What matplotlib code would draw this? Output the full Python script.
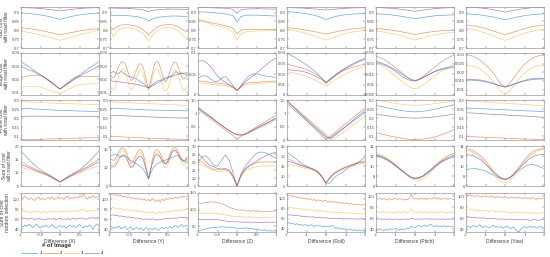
import numpy as np
import matplotlib
matplotlib.use("Agg")
import matplotlib.pyplot as plt

plt.rcParams["font.family"] = ["Liberation Sans", "DejaVu Sans"]

# every panel holds 4 series, in legend order 1, 2, 3, 4
# (samples are evenly spaced over the panel's x range)
SERIES = ["1", "2", "3", "4"]
COLORS = ["#0072bd", "#d95319", "#edb120", "#7e2f8e"]

XLABELS = ["Difference (X)", "Difference (Y)", "Difference (Z)",
           "Difference (Roll)", "Difference (Pitch)", "Difference (Yaw)"]
YLABELS = ["NID cost\nwith road filter", "Edge cost\nwith road filter",
           "Plane cost\nwith road filter", "Sum of cost\nwith road filter",
           "Sum of cost\nrandom selection"]

# ---- row 1: NID cost ----
NID_X = [
    [0.898, 0.897, 0.895, 0.893, 0.890, 0.887, 0.883, 0.879, 0.874, 0.868, 0.862, 0.868, 0.874, 0.879, 0.883, 0.887, 0.890, 0.893, 0.895, 0.897, 0.898],
    [0.815, 0.813, 0.810, 0.807, 0.803, 0.799, 0.795, 0.790, 0.785, 0.780, 0.775, 0.779, 0.784, 0.788, 0.792, 0.796, 0.800, 0.803, 0.806, 0.808, 0.810],
    [0.795, 0.792, 0.788, 0.784, 0.779, 0.774, 0.768, 0.762, 0.756, 0.750, 0.743, 0.749, 0.756, 0.762, 0.768, 0.774, 0.780, 0.786, 0.791, 0.796, 0.800],
    [0.928, 0.928, 0.927, 0.926, 0.925, 0.923, 0.921, 0.919, 0.916, 0.913, 0.910, 0.913, 0.916, 0.919, 0.921, 0.923, 0.925, 0.926, 0.927, 0.928, 0.928],
]
NID_Y = [
    [0.886, 0.884, 0.885, 0.885, 0.884, 0.882, 0.880, 0.877, 0.873, 0.866, 0.853, 0.864, 0.871, 0.875, 0.878, 0.880, 0.881, 0.881, 0.880, 0.879, 0.880],
    [0.825, 0.803, 0.822, 0.830, 0.832, 0.831, 0.828, 0.822, 0.812, 0.797, 0.772, 0.797, 0.814, 0.825, 0.831, 0.833, 0.831, 0.825, 0.814, 0.800, 0.792],
    [0.805, 0.765, 0.795, 0.810, 0.815, 0.814, 0.810, 0.803, 0.790, 0.772, 0.740, 0.772, 0.792, 0.806, 0.814, 0.816, 0.813, 0.805, 0.790, 0.768, 0.755],
    [0.926, 0.926, 0.925, 0.925, 0.924, 0.923, 0.922, 0.920, 0.918, 0.914, 0.905, 0.913, 0.916, 0.918, 0.919, 0.920, 0.920, 0.920, 0.919, 0.918, 0.918],
]
NID_Z = [
    [0.905, 0.904, 0.903, 0.902, 0.900, 0.898, 0.896, 0.893, 0.889, 0.882, 0.848, 0.878, 0.884, 0.886, 0.886, 0.886, 0.885, 0.884, 0.883, 0.882, 0.881],
    [0.862, 0.856, 0.850, 0.845, 0.840, 0.836, 0.831, 0.826, 0.820, 0.810, 0.780, 0.800, 0.806, 0.806, 0.805, 0.805, 0.805, 0.805, 0.805, 0.806, 0.806],
    [0.857, 0.850, 0.843, 0.837, 0.831, 0.826, 0.820, 0.813, 0.805, 0.790, 0.743, 0.780, 0.790, 0.793, 0.795, 0.796, 0.797, 0.798, 0.798, 0.799, 0.800],
    [0.929, 0.929, 0.928, 0.928, 0.927, 0.927, 0.926, 0.925, 0.923, 0.919, 0.896, 0.916, 0.920, 0.921, 0.922, 0.922, 0.922, 0.921, 0.921, 0.920, 0.920],
]
NID_ROLL = [
    [0.905, 0.904, 0.902, 0.900, 0.897, 0.894, 0.890, 0.885, 0.879, 0.871, 0.861, 0.869, 0.876, 0.881, 0.885, 0.888, 0.890, 0.892, 0.893, 0.894, 0.895],
    [0.815, 0.813, 0.811, 0.808, 0.805, 0.801, 0.797, 0.793, 0.788, 0.784, 0.779, 0.784, 0.789, 0.794, 0.798, 0.802, 0.806, 0.809, 0.811, 0.813, 0.815],
    [0.805, 0.802, 0.798, 0.793, 0.788, 0.782, 0.775, 0.768, 0.761, 0.753, 0.745, 0.753, 0.761, 0.768, 0.775, 0.781, 0.786, 0.791, 0.795, 0.798, 0.800],
    [0.928, 0.928, 0.927, 0.927, 0.926, 0.925, 0.923, 0.921, 0.919, 0.917, 0.915, 0.917, 0.919, 0.921, 0.923, 0.925, 0.926, 0.927, 0.927, 0.928, 0.928],
]
NID_PITCH = [
    [0.893, 0.892, 0.891, 0.889, 0.887, 0.884, 0.881, 0.878, 0.874, 0.870, 0.865, 0.869, 0.873, 0.876, 0.879, 0.882, 0.884, 0.885, 0.886, 0.887, 0.888],
    [0.810, 0.809, 0.807, 0.804, 0.801, 0.798, 0.794, 0.790, 0.786, 0.781, 0.776, 0.780, 0.784, 0.788, 0.791, 0.794, 0.796, 0.798, 0.799, 0.800, 0.800],
    [0.795, 0.793, 0.790, 0.786, 0.782, 0.777, 0.771, 0.765, 0.758, 0.752, 0.745, 0.751, 0.757, 0.763, 0.768, 0.773, 0.778, 0.782, 0.785, 0.788, 0.790],
    [0.928, 0.928, 0.927, 0.926, 0.924, 0.922, 0.920, 0.917, 0.914, 0.911, 0.908, 0.911, 0.914, 0.917, 0.920, 0.922, 0.924, 0.926, 0.927, 0.928, 0.928],
]
NID_YAW = [
    [0.893, 0.892, 0.891, 0.889, 0.886, 0.883, 0.879, 0.875, 0.870, 0.865, 0.860, 0.865, 0.870, 0.875, 0.879, 0.883, 0.886, 0.889, 0.891, 0.892, 0.893],
    [0.830, 0.828, 0.825, 0.821, 0.816, 0.810, 0.803, 0.796, 0.789, 0.782, 0.776, 0.782, 0.789, 0.796, 0.803, 0.810, 0.816, 0.821, 0.825, 0.828, 0.830],
    [0.810, 0.807, 0.803, 0.798, 0.792, 0.785, 0.777, 0.769, 0.760, 0.751, 0.743, 0.751, 0.760, 0.769, 0.777, 0.784, 0.790, 0.795, 0.799, 0.802, 0.805],
    [0.930, 0.930, 0.929, 0.928, 0.926, 0.923, 0.920, 0.916, 0.912, 0.908, 0.903, 0.908, 0.912, 0.916, 0.920, 0.923, 0.926, 0.928, 0.929, 0.930, 0.930],
]

# ---- row 2: edge cost ----
EDGE_X = [
    [0.0335, 0.0315, 0.0295, 0.0275, 0.0254, 0.0234, 0.0212, 0.0190, 0.0168, 0.0146, 0.0125, 0.0146, 0.0168, 0.0190, 0.0212, 0.0234, 0.0254, 0.0275, 0.0295, 0.0315, 0.0335],
    [0.0215, 0.0220, 0.0225, 0.0230, 0.0232, 0.0228, 0.0215, 0.0195, 0.0170, 0.0148, 0.0128, 0.0150, 0.0175, 0.0200, 0.0215, 0.0222, 0.0222, 0.0220, 0.0220, 0.0222, 0.0222],
    [0.0140, 0.0142, 0.0145, 0.0146, 0.0145, 0.0140, 0.0130, 0.0118, 0.0108, 0.0100, 0.0095, 0.0105, 0.0120, 0.0135, 0.0150, 0.0158, 0.0162, 0.0164, 0.0165, 0.0165, 0.0165],
    [0.0290, 0.0285, 0.0270, 0.0262, 0.0245, 0.0232, 0.0215, 0.0195, 0.0175, 0.0150, 0.0125, 0.0145, 0.0165, 0.0185, 0.0205, 0.0222, 0.0240, 0.0255, 0.0270, 0.0285, 0.0300],
]
EDGE_Y = [
    [0.024, 0.025, 0.026, 0.025, 0.024, 0.025, 0.026, 0.025, 0.024, 0.023, 0.022, 0.022, 0.021, 0.021, 0.020, 0.019, 0.018, 0.017, 0.016, 0.0145, 0.0135,
     0.0145, 0.016, 0.017, 0.018, 0.019, 0.019, 0.020, 0.021, 0.021, 0.022, 0.022, 0.023, 0.024, 0.026, 0.025, 0.024, 0.025, 0.024, 0.024, 0.023],
    [0.025, 0.022, 0.021, 0.023, 0.027, 0.031, 0.033, 0.0335, 0.032, 0.028, 0.023, 0.019, 0.020, 0.024, 0.028, 0.031, 0.032, 0.030, 0.025, 0.018, 0.0125,
     0.018, 0.025, 0.031, 0.0335, 0.033, 0.029, 0.024, 0.019, 0.018, 0.021, 0.026, 0.030, 0.033, 0.033, 0.030, 0.026, 0.022, 0.020, 0.021, 0.024],
    [0.016, 0.013, 0.012, 0.014, 0.019, 0.024, 0.027, 0.028, 0.026, 0.021, 0.015, 0.012, 0.013, 0.017, 0.022, 0.026, 0.027, 0.025, 0.020, 0.015, 0.0115,
     0.015, 0.021, 0.026, 0.028, 0.027, 0.023, 0.017, 0.012, 0.011, 0.013, 0.018, 0.023, 0.027, 0.027, 0.024, 0.019, 0.014, 0.011, 0.012, 0.015],
    [0.0190, 0.0188, 0.0186, 0.0184, 0.0182, 0.0180, 0.0178, 0.0176, 0.0174, 0.0172, 0.0170, 0.0168, 0.0166, 0.0163, 0.0160, 0.0157, 0.0153, 0.0149, 0.0145, 0.0140, 0.0135,
     0.0142, 0.0150, 0.0158, 0.0166, 0.0174, 0.0182, 0.0190, 0.0197, 0.0204, 0.0210, 0.0216, 0.0222, 0.0227, 0.0232, 0.0236, 0.0240, 0.0243, 0.0246, 0.0248, 0.0250],
]
EDGE_Z = [
    [0.040, 0.045, 0.046, 0.040, 0.033, 0.032, 0.040, 0.044, 0.035, 0.022, 0.010, 0.022, 0.035, 0.045, 0.050, 0.050, 0.048, 0.046, 0.044, 0.043, 0.042],
    [0.034, 0.033, 0.032, 0.030, 0.029, 0.028, 0.027, 0.026, 0.024, 0.020, 0.011, 0.020, 0.026, 0.029, 0.030, 0.030, 0.031, 0.032, 0.032, 0.033, 0.033],
    [0.030, 0.029, 0.028, 0.026, 0.025, 0.023, 0.023, 0.022, 0.020, 0.017, 0.010, 0.017, 0.022, 0.024, 0.026, 0.027, 0.028, 0.028, 0.029, 0.030, 0.030],
    [0.080, 0.082, 0.079, 0.070, 0.058, 0.045, 0.037, 0.030, 0.024, 0.018, 0.011, 0.020, 0.030, 0.038, 0.045, 0.052, 0.060, 0.068, 0.076, 0.083, 0.088],
]
EDGE_ROLL = [
    [0.0400, 0.0380, 0.0360, 0.0335, 0.0310, 0.0285, 0.0260, 0.0230, 0.0195, 0.0155, 0.0110, 0.0140, 0.0170, 0.0200, 0.0225, 0.0250, 0.0270, 0.0290, 0.0310, 0.0325, 0.0340],
    [0.0290, 0.0285, 0.0275, 0.0265, 0.0255, 0.0240, 0.0225, 0.0205, 0.0185, 0.0155, 0.0120, 0.0150, 0.0180, 0.0205, 0.0225, 0.0240, 0.0255, 0.0265, 0.0275, 0.0285, 0.0290],
    [0.0220, 0.0215, 0.0208, 0.0200, 0.0190, 0.0178, 0.0163, 0.0145, 0.0125, 0.0105, 0.0085, 0.0110, 0.0135, 0.0160, 0.0180, 0.0200, 0.0220, 0.0235, 0.0250, 0.0262, 0.0270],
    [0.0240, 0.0238, 0.0235, 0.0230, 0.0225, 0.0215, 0.0200, 0.0185, 0.0165, 0.0145, 0.0120, 0.0150, 0.0180, 0.0210, 0.0235, 0.0260, 0.0280, 0.0300, 0.0320, 0.0335, 0.0350],
]
EDGE_PITCH = [
    [0.0210, 0.0205, 0.0198, 0.0190, 0.0180, 0.0170, 0.0158, 0.0146, 0.0134, 0.0124, 0.0120, 0.0124, 0.0133, 0.0143, 0.0153, 0.0162, 0.0170, 0.0176, 0.0180, 0.0184, 0.0185],
    [0.0235, 0.0228, 0.0220, 0.0208, 0.0195, 0.0180, 0.0165, 0.0150, 0.0135, 0.0123, 0.0117, 0.0125, 0.0138, 0.0152, 0.0167, 0.0182, 0.0197, 0.0210, 0.0222, 0.0232, 0.0240],
    [0.0200, 0.0193, 0.0183, 0.0170, 0.0156, 0.0140, 0.0124, 0.0108, 0.0094, 0.0084, 0.0080, 0.0085, 0.0096, 0.0110, 0.0125, 0.0140, 0.0154, 0.0166, 0.0176, 0.0184, 0.0190],
    [0.0205, 0.0200, 0.0193, 0.0185, 0.0175, 0.0162, 0.0148, 0.0135, 0.0125, 0.0118, 0.0117, 0.0122, 0.0132, 0.0142, 0.0152, 0.0160, 0.0167, 0.0172, 0.0176, 0.0179, 0.0180],
]
EDGE_YAW = [
    [0.0155, 0.0155, 0.0154, 0.0152, 0.0149, 0.0145, 0.0140, 0.0134, 0.0127, 0.0122, 0.0120, 0.0123, 0.0130, 0.0138, 0.0146, 0.0153, 0.0160, 0.0164, 0.0166, 0.0166, 0.0165],
    [0.0300, 0.0297, 0.0290, 0.0278, 0.0262, 0.0242, 0.0220, 0.0195, 0.0163, 0.0132, 0.0115, 0.0130, 0.0160, 0.0192, 0.0220, 0.0245, 0.0265, 0.0280, 0.0290, 0.0297, 0.0300],
    [0.0240, 0.0238, 0.0233, 0.0225, 0.0212, 0.0195, 0.0173, 0.0148, 0.0118, 0.0090, 0.0075, 0.0088, 0.0115, 0.0145, 0.0172, 0.0195, 0.0213, 0.0226, 0.0234, 0.0238, 0.0240],
    [0.0160, 0.0160, 0.0159, 0.0157, 0.0154, 0.0150, 0.0144, 0.0137, 0.0128, 0.0120, 0.0115, 0.0120, 0.0128, 0.0137, 0.0145, 0.0151, 0.0155, 0.0158, 0.0160, 0.0161, 0.0162],
]

# ---- row 3: plane cost ----
PLANE_X = [
    [0.255, 0.254, 0.253, 0.251, 0.250, 0.249, 0.247, 0.246, 0.245, 0.244, 0.243, 0.242, 0.242, 0.241, 0.240, 0.239, 0.239, 0.238, 0.237, 0.236, 0.235],
    [0.082, 0.082, 0.083, 0.083, 0.084, 0.084, 0.085, 0.086, 0.086, 0.087, 0.088, 0.088, 0.089, 0.090, 0.090, 0.091, 0.091, 0.092, 0.092, 0.092, 0.093],
    [0.290, 0.290, 0.289, 0.288, 0.287, 0.286, 0.285, 0.284, 0.283, 0.282, 0.281, 0.280, 0.280, 0.279, 0.278, 0.278, 0.277, 0.277, 0.276, 0.276, 0.275],
    [0.210, 0.210, 0.211, 0.211, 0.211, 0.211, 0.211, 0.210, 0.210, 0.210, 0.210, 0.210, 0.210, 0.210, 0.210, 0.209, 0.209, 0.209, 0.209, 0.209, 0.209],
]
PLANE_Y = [
    [0.255, 0.254, 0.253, 0.252, 0.251, 0.250, 0.249, 0.248, 0.247, 0.246, 0.245, 0.245, 0.244, 0.244, 0.243, 0.243, 0.242, 0.242, 0.241, 0.241, 0.240],
    [0.100, 0.099, 0.098, 0.097, 0.096, 0.095, 0.094, 0.093, 0.092, 0.091, 0.090, 0.089, 0.088, 0.088, 0.087, 0.086, 0.085, 0.085, 0.084, 0.084, 0.083],
    [0.290, 0.289, 0.288, 0.287, 0.286, 0.285, 0.284, 0.283, 0.282, 0.281, 0.280, 0.279, 0.278, 0.277, 0.276, 0.275, 0.274, 0.273, 0.272, 0.271, 0.270],
    [0.215, 0.215, 0.214, 0.214, 0.213, 0.212, 0.211, 0.210, 0.209, 0.208, 0.207, 0.206, 0.205, 0.205, 0.204, 0.203, 0.202, 0.202, 0.201, 0.201, 0.200],
]
PLANE_Z = [
    [1.22, 1.11, 1.00, 0.89, 0.78, 0.67, 0.56, 0.45, 0.35, 0.26, 0.20, 0.18, 0.21, 0.27, 0.35, 0.43, 0.50, 0.58, 0.65, 0.73, 0.80],
    [1.15, 1.04, 0.93, 0.82, 0.71, 0.60, 0.49, 0.38, 0.27, 0.15, 0.04, 0.13, 0.22, 0.31, 0.40, 0.49, 0.58, 0.67, 0.76, 0.84, 0.92],
    [1.25, 1.13, 1.02, 0.90, 0.79, 0.68, 0.56, 0.45, 0.34, 0.24, 0.19, 0.17, 0.20, 0.26, 0.33, 0.40, 0.47, 0.54, 0.61, 0.68, 0.75],
    [1.20, 1.09, 0.98, 0.88, 0.77, 0.66, 0.55, 0.45, 0.35, 0.27, 0.21, 0.19, 0.22, 0.29, 0.37, 0.45, 0.52, 0.60, 0.67, 0.74, 0.82],
]
PLANE_ROLL = [
    [1.37, 1.24, 1.11, 0.985, 0.86, 0.73, 0.60, 0.48, 0.35, 0.22, 0.10, 0.08, 0.18, 0.29, 0.39, 0.50, 0.60, 0.71, 0.82, 0.93, 1.04],
    [1.50, 1.35, 1.20, 1.05, 0.90, 0.75, 0.60, 0.45, 0.30, 0.15, 0.01, 0.13, 0.25, 0.37, 0.49, 0.61, 0.73, 0.85, 0.97, 1.09, 1.21],
    [1.48, 1.354, 1.228, 1.10, 0.976, 0.85, 0.724, 0.60, 0.47, 0.346, 0.22, 0.095, 0.03, 0.14, 0.25, 0.36, 0.47, 0.58, 0.69, 0.79, 0.90],
    [1.45, 1.32, 1.19, 1.06, 0.93, 0.80, 0.67, 0.54, 0.41, 0.28, 0.15, 0.03, 0.14, 0.26, 0.38, 0.50, 0.63, 0.75, 0.88, 1.00, 1.13],
]
PLANE_PITCH = [
    [0.270, 0.266, 0.262, 0.257, 0.252, 0.248, 0.244, 0.241, 0.238, 0.236, 0.235, 0.236, 0.238, 0.241, 0.245, 0.249, 0.254, 0.259, 0.264, 0.269, 0.274],
    [0.120, 0.115, 0.110, 0.105, 0.100, 0.096, 0.092, 0.088, 0.085, 0.083, 0.082, 0.083, 0.085, 0.088, 0.092, 0.097, 0.103, 0.110, 0.118, 0.127, 0.138],
    [0.300, 0.297, 0.293, 0.289, 0.285, 0.281, 0.278, 0.275, 0.273, 0.272, 0.271, 0.272, 0.273, 0.275, 0.277, 0.280, 0.283, 0.286, 0.289, 0.292, 0.295],
    [0.222, 0.219, 0.216, 0.213, 0.210, 0.207, 0.205, 0.203, 0.202, 0.201, 0.200, 0.201, 0.202, 0.203, 0.205, 0.207, 0.210, 0.213, 0.216, 0.219, 0.222],
]
PLANE_YAW = [
    [0.256, 0.255, 0.254, 0.253, 0.252, 0.251, 0.250, 0.249, 0.248, 0.247, 0.246, 0.245, 0.244, 0.243, 0.242, 0.241, 0.240, 0.239, 0.238, 0.237, 0.236],
    [0.100, 0.099, 0.098, 0.097, 0.096, 0.095, 0.094, 0.093, 0.092, 0.091, 0.090, 0.089, 0.088, 0.087, 0.086, 0.086, 0.085, 0.084, 0.083, 0.083, 0.082],
    [0.295, 0.294, 0.293, 0.291, 0.290, 0.289, 0.287, 0.286, 0.284, 0.283, 0.282, 0.280, 0.279, 0.278, 0.276, 0.275, 0.274, 0.272, 0.271, 0.269, 0.268],
    [0.230, 0.229, 0.228, 0.226, 0.225, 0.224, 0.222, 0.221, 0.220, 0.219, 0.218, 0.216, 0.215, 0.214, 0.213, 0.212, 0.210, 0.209, 0.208, 0.206, 0.205],
]

# ---- row 4: sum of cost with road filter ----
SUM_X = [
    [18.0, 16.5, 15.0, 13.5, 12.2, 11.0, 10.2, 9.4, 8.5, 7.5, 6.5, 7.5, 8.5, 9.4, 10.2, 11.0, 12.2, 13.5, 15.0, 16.5, 18.0],
    [14.0, 13.3, 12.5, 11.8, 11.0, 10.4, 9.8, 9.1, 8.3, 7.4, 6.5, 7.5, 8.4, 9.3, 10.0, 10.7, 11.5, 12.3, 13.2, 14.1, 15.0],
    [12.0, 11.6, 11.2, 10.8, 10.3, 9.8, 9.3, 8.7, 8.0, 7.2, 6.5, 7.2, 8.0, 8.7, 9.3, 9.8, 10.4, 11.0, 11.6, 12.1, 12.6],
    [13.0, 12.5, 11.9, 11.3, 10.7, 10.1, 9.5, 8.9, 8.1, 7.3, 6.5, 7.3, 8.1, 8.9, 9.6, 10.3, 11.0, 11.8, 12.6, 13.3, 14.0],
]
SUM_Y = [
    [13.0, 13.3, 13.6, 13.8, 13.6, 13.2, 13.0, 13.2, 13.3, 12.9, 12.4, 12.0, 11.7, 11.4, 11.0, 10.7, 10.3, 9.8, 9.0, 8.0, 7.0,
     8.3, 9.5, 10.4, 11.0, 11.3, 11.6, 11.8, 12.0, 12.2, 12.4, 12.6, 12.8, 13.0, 13.3, 13.4, 12.8, 12.2, 11.8, 11.6, 11.5],
    [13.0, 12.3, 12.0, 12.5, 13.5, 14.7, 15.4, 15.5, 15.0, 13.8, 12.2, 11.2, 11.5, 12.8, 14.0, 14.8, 15.0, 14.2, 12.3, 9.5, 7.0,
     9.5, 12.3, 14.2, 15.0, 14.8, 14.0, 12.8, 11.5, 11.2, 12.2, 13.8, 15.0, 15.5, 15.4, 14.7, 13.5, 12.5, 12.0, 12.3, 13.0],
    [12.0, 11.2, 10.8, 11.3, 12.5, 13.8, 14.6, 14.8, 14.2, 12.8, 11.0, 10.0, 10.3, 11.6, 13.0, 13.9, 14.2, 13.4, 11.5, 9.0, 7.0,
     9.0, 11.5, 13.4, 14.2, 13.9, 13.0, 11.6, 10.3, 10.0, 11.0, 12.8, 14.2, 14.8, 14.6, 13.8, 12.5, 11.3, 10.8, 11.2, 12.0],
    [11.0, 10.5, 10.2, 10.6, 11.5, 12.6, 13.3, 13.6, 13.2, 12.2, 11.0, 10.2, 10.4, 11.3, 12.3, 13.0, 13.2, 12.6, 11.0, 9.0, 7.0,
     9.2, 11.3, 12.9, 13.6, 13.5, 12.9, 12.0, 11.2, 11.0, 11.7, 13.0, 14.2, 14.8, 14.7, 14.0, 13.0, 12.2, 11.8, 12.0, 12.5],
]
SUM_Z = [
    [20.0, 23.0, 24.0, 21.5, 18.0, 17.5, 21.0, 24.5, 21.0, 13.0, 5.0, 12.0, 17.0, 20.0, 23.0, 25.5, 26.2, 26.0, 25.0, 23.5, 22.5],
    [22.0, 20.0, 18.0, 16.5, 15.5, 15.0, 15.5, 16.0, 15.0, 11.0, 5.0, 11.5, 15.0, 17.0, 18.5, 19.5, 20.0, 20.0, 20.0, 20.0, 20.0],
    [19.0, 18.0, 17.0, 15.5, 14.5, 14.0, 14.0, 14.5, 13.5, 10.0, 5.0, 10.5, 14.0, 15.5, 16.5, 17.0, 17.5, 17.5, 17.5, 17.8, 18.0],
    [25.0, 23.0, 20.0, 18.0, 17.0, 16.0, 15.5, 15.5, 14.5, 11.0, 5.0, 12.0, 15.5, 17.5, 19.0, 20.5, 22.0, 23.5, 24.5, 25.5, 26.0],
]
SUM_ROLL = [
    [22.0, 20.5, 19.0, 17.5, 16.0, 15.0, 14.0, 13.2, 12.0, 9.5, 6.0, 6.5, 9.0, 10.5, 11.5, 13.0, 14.5, 15.5, 16.5, 18.0, 19.5],
    [19.0, 18.0, 17.0, 16.0, 15.2, 14.5, 14.0, 13.3, 12.0, 9.8, 6.5, 9.5, 11.5, 12.5, 13.5, 14.5, 15.3, 16.0, 16.7, 17.2, 17.5],
    [16.0, 15.6, 15.2, 14.7, 14.2, 13.7, 13.3, 12.8, 11.5, 9.3, 6.5, 8.8, 10.8, 12.0, 13.0, 13.8, 14.5, 15.0, 15.6, 16.0, 16.5],
    [17.5, 17.0, 16.3, 15.6, 15.0, 14.3, 13.8, 13.0, 11.8, 9.5, 6.5, 9.0, 11.0, 12.3, 13.5, 14.3, 15.0, 15.7, 16.3, 16.8, 17.0],
]
SUM_PITCH = [
    [12.0, 11.8, 11.5, 11.1, 10.6, 10.0, 9.4, 8.8, 8.2, 7.7, 7.4, 7.5, 7.9, 8.4, 9.0, 9.7, 10.3, 10.9, 11.3, 11.6, 11.8],
    [12.3, 12.1, 11.8, 11.3, 10.8, 10.2, 9.5, 8.8, 8.2, 7.7, 7.5, 7.6, 8.0, 8.6, 9.3, 10.0, 10.7, 11.3, 11.8, 12.2, 12.5],
    [12.5, 12.3, 12.0, 11.5, 11.0, 10.3, 9.6, 8.9, 8.2, 7.5, 7.2, 7.1, 7.4, 8.0, 8.8, 9.6, 10.4, 11.1, 11.7, 12.2, 12.6],
    [12.1, 11.9, 11.6, 11.2, 10.7, 10.1, 9.5, 8.9, 8.3, 7.8, 7.6, 7.7, 8.0, 8.6, 9.2, 9.9, 10.5, 11.0, 11.4, 11.8, 12.1],
]
SUM_YAW = [
    [9.3, 9.4, 9.5, 9.4, 9.2, 9.0, 8.6, 8.2, 7.8, 7.5, 7.3, 7.6, 8.1, 8.7, 9.3, 9.8, 10.2, 10.3, 10.1, 9.8, 9.5],
    [13.5, 13.3, 13.0, 12.5, 11.8, 11.0, 10.0, 9.0, 8.2, 7.5, 7.2, 7.5, 8.2, 9.2, 10.2, 11.2, 12.1, 12.8, 13.2, 13.4, 13.5],
    [13.2, 13.0, 12.6, 12.1, 11.4, 10.5, 9.5, 8.5, 7.6, 6.9, 6.6, 6.9, 7.7, 8.7, 9.8, 10.8, 11.7, 12.4, 12.9, 13.2, 13.3],
    [12.3, 12.2, 12.0, 11.6, 11.1, 10.4, 9.6, 8.8, 8.1, 7.6, 7.4, 7.6, 8.2, 9.0, 9.8, 10.6, 11.3, 11.8, 12.1, 12.3, 12.3],
]

# ---- row 5: sum of cost, random selection ----
RAND_X = [
    [47, 45, 49, 46, 50, 48, 44, 47, 51, 46, 43, 47, 45, 49, 44, 46, 50, 45, 42, 46, 48, 44, 47, 43, 46, 49, 45, 48, 44, 47, 50, 46, 43, 47, 45, 49, 46, 40, 48, 51, 46],
    [104, 101, 106, 102, 99, 103, 100, 97, 101, 104, 99, 102, 98, 101, 103, 100, 104, 99, 102, 105, 101, 103, 99, 104, 106, 100, 103, 101, 105, 102, 106, 104, 111, 103, 100, 105, 102, 107, 103, 104, 106],
    [76, 78, 74, 77, 75, 73, 76, 74, 77, 75, 72, 74, 76, 73, 75, 77, 74, 76, 73, 75, 77, 74, 76, 75, 78, 74, 76, 77, 75, 79, 76, 78, 80, 77, 75, 78, 76, 79, 77, 78, 80],
    [62, 63, 61, 62, 60, 62, 61, 59, 61, 62, 60, 61, 59, 60, 62, 61, 60, 62, 59, 61, 62, 60, 61, 60, 62, 59, 61, 63, 60, 62, 61, 63, 62, 60, 61, 63, 62, 64, 62, 63, 64],
]
RAND_Y = [
    [44, 46, 42, 45, 43, 47, 41, 44, 46, 40, 43, 45, 39, 42, 44, 40, 43, 38, 41, 44, 40, 42, 39, 43, 41, 38, 42, 45, 41, 44, 42, 46, 43, 45, 48, 44, 47, 50, 45, 48, 47],
    [110, 108, 111, 107, 109, 106, 108, 104, 106, 103, 105, 101, 103, 100, 102, 99, 101, 98, 100, 97, 99, 96, 101, 98, 95, 99, 94, 100, 97, 101, 99, 103, 100, 102, 104, 101, 105, 103, 106, 104, 106],
    [83, 82, 84, 81, 82, 80, 81, 79, 80, 78, 79, 77, 78, 76, 77, 75, 76, 74, 75, 73, 74, 72, 75, 73, 71, 74, 72, 75, 73, 76, 74, 77, 75, 77, 78, 76, 79, 77, 80, 78, 80],
    [69, 68, 69, 67, 68, 66, 67, 65, 66, 64, 65, 63, 64, 62, 63, 61, 62, 60, 61, 60, 61, 59, 61, 60, 58, 60, 59, 61, 60, 62, 61, 62, 61, 63, 62, 63, 64, 63, 64, 63, 64],
]
RAND_Z = [
    [35, 37, 39, 41, 42, 44, 45, 46, 47, 46, 48, 47, 48, 49, 47, 48, 46, 47, 45, 46, 44, 45, 43, 45, 44, 46, 43, 42, 44, 41, 40, 42, 39, 38, 40, 37, 36, 38, 35, 37, 36],
    [118, 120, 119, 121, 122, 121, 123, 124, 122, 123, 121, 120, 118, 116, 113, 110, 107, 105, 103, 101, 100, 99, 98, 100, 97, 96, 98, 95, 97, 96, 94, 97, 95, 93, 96, 94, 95, 93, 96, 95, 97],
    [88, 89, 88, 90, 89, 88, 89, 90, 88, 89, 87, 88, 86, 85, 84, 83, 82, 81, 80, 80, 79, 80, 78, 79, 78, 77, 79, 78, 77, 78, 76, 78, 77, 76, 78, 77, 78, 76, 77, 78, 78],
    [70, 71, 70, 71, 70, 71, 71, 70, 71, 70, 70, 69, 68, 67, 66, 65, 65, 64, 64, 63, 64, 63, 63, 62, 63, 62, 63, 62, 62, 63, 62, 62, 61, 62, 62, 63, 62, 62, 63, 62, 63],
]
RAND_ROLL = [
    [50, 52, 49, 51, 48, 50, 47, 49, 46, 48, 47, 45, 48, 46, 44, 47, 45, 46, 44, 45, 43, 45, 44, 46, 45, 40, 42, 39, 41, 38, 40, 37, 39, 38, 36, 38, 35, 37, 35, 36, 34],
    [108, 106, 107, 104, 105, 103, 104, 101, 102, 100, 101, 99, 100, 97, 99, 96, 98, 97, 95, 97, 96, 94, 96, 93, 95, 92, 94, 91, 93, 90, 92, 91, 89, 91, 88, 90, 88, 89, 87, 89, 88],
    [83, 82, 83, 81, 82, 80, 81, 79, 80, 79, 78, 79, 77, 78, 76, 77, 76, 75, 76, 74, 75, 74, 73, 74, 73, 72, 73, 72, 73, 71, 72, 71, 72, 70, 71, 70, 71, 69, 70, 70, 70],
    [68, 67, 68, 66, 67, 66, 66, 65, 65, 64, 65, 64, 63, 64, 63, 62, 63, 62, 62, 61, 62, 61, 61, 60, 61, 60, 60, 61, 60, 59, 60, 60, 59, 60, 59, 60, 59, 59, 60, 59, 59],
]
RAND_PITCH = [
    [40, 38, 41, 39, 37, 40, 38, 41, 39, 40, 42, 40, 38, 41, 39, 40, 42, 41, 46, 44, 43, 45, 47, 44, 46, 48, 45, 47, 49, 46, 45, 47, 44, 46, 45, 47, 44, 46, 45, 44, 46],
    [96, 95, 97, 94, 96, 95, 93, 96, 94, 95, 97, 94, 96, 95, 93, 95, 94, 96, 104, 97, 95, 96, 94, 97, 95, 96, 94, 97, 95, 96, 98, 95, 97, 94, 96, 95, 97, 94, 96, 95, 94],
    [71, 72, 70, 71, 72, 70, 71, 72, 70, 71, 70, 72, 71, 70, 72, 71, 70, 72, 77, 72, 71, 70, 72, 71, 70, 72, 71, 70, 71, 72, 70, 71, 70, 72, 71, 70, 71, 70, 72, 71, 70],
    [59, 58, 59, 58, 59, 58, 58, 59, 58, 58, 59, 58, 58, 57, 58, 59, 58, 58, 60, 59, 58, 59, 58, 59, 58, 59, 59, 58, 59, 58, 59, 58, 59, 58, 59, 58, 58, 59, 58, 59, 58],
]
RAND_YAW = [
    [44, 46, 43, 45, 47, 44, 46, 48, 45, 43, 46, 44, 42, 45, 47, 44, 46, 43, 45, 42, 44, 46, 43, 41, 44, 42, 38, 35, 40, 43, 45, 42, 44, 46, 43, 45, 42, 44, 46, 43, 44],
    [102, 101, 103, 100, 101, 99, 102, 100, 98, 101, 99, 100, 98, 101, 99, 97, 100, 98, 99, 97, 100, 98, 96, 99, 97, 98, 96, 99, 97, 95, 98, 96, 97, 95, 98, 96, 94, 97, 95, 96, 97],
    [77, 76, 77, 75, 76, 74, 75, 74, 75, 73, 74, 73, 72, 74, 73, 72, 73, 71, 72, 71, 72, 71, 70, 71, 70, 72, 70, 71, 70, 69, 71, 70, 69, 70, 69, 70, 68, 70, 69, 70, 70],
    [62, 63, 62, 61, 62, 61, 60, 61, 60, 61, 60, 59, 60, 59, 60, 59, 58, 59, 58, 59, 58, 57, 58, 59, 57, 58, 57, 58, 57, 58, 57, 58, 57, 56, 57, 58, 57, 56, 57, 58, 57],
]

ROWS = [
    [NID_X, NID_Y, NID_Z, NID_ROLL, NID_PITCH, NID_YAW],
    [EDGE_X, EDGE_Y, EDGE_Z, EDGE_ROLL, EDGE_PITCH, EDGE_YAW],
    [PLANE_X, PLANE_Y, PLANE_Z, PLANE_ROLL, PLANE_PITCH, PLANE_YAW],
    [SUM_X, SUM_Y, SUM_Z, SUM_ROLL, SUM_PITCH, SUM_YAW],
    [RAND_X, RAND_Y, RAND_Z, RAND_ROLL, RAND_PITCH, RAND_YAW],
]

# y limits / ticks per panel
NID_T = [0.7, 0.75, 0.8, 0.85, 0.9]
PL_T = [0.1, 0.15, 0.2, 0.25, 0.3]
YLIMS = [
    [(0.7, 0.932)] * 6,
    [(0.008, 0.04), (0.008, 0.04), (0, 0.1), (0, 0.04), (0.005, 0.025), (0.007, 0.031)],
    [(0.08, 0.3), (0.08, 0.3), (0, 1.5), (0, 1.5), (0.08, 0.3), (0.08, 0.3)],
    [(5, 20), (5, 16), (5, 30), (5, 25), (6, 14), (6, 14)],
    [(35, 112), (35, 112), (33, 150), (33, 112), (35, 106), (35, 106)],
]
YTICKS = [
    [NID_T] * 6,
    [[0.01, 0.02, 0.03, 0.04], [0.01, 0.02, 0.03, 0.04], [0, 0.05, 0.1],
     [0, 0.01, 0.02, 0.03, 0.04], [0.005, 0.01, 0.015, 0.02, 0.025],
     [0.01, 0.015, 0.02, 0.025, 0.03]],
    [PL_T, PL_T, [0, 0.5, 1, 1.5], [0, 0.5, 1, 1.5], PL_T, PL_T],
    [[5, 10, 15, 20], [5, 10, 15], [5, 10, 15, 20, 25, 30],
     [5, 10, 15, 20, 25], [6, 8, 10, 12, 14], [6, 8, 10, 12, 14]],
    [[40, 60, 80, 100], [40, 60, 80, 100], [50, 100, 150],
     [40, 60, 80, 100], [40, 60, 80, 100], [40, 60, 80, 100]],
]

W, H = 550, 257
COL_LEFT = [21, 109.5, 198, 287, 376, 466]
AX_W = 78
ROW_TOP = [7, 53, 100, 146, 193]
ROW_H = [41, 42, 40, 40, 39]
TICK_FS = 3.0

fig = plt.figure(figsize=(W / 100, H / 100), dpi=100)

for r in range(5):
    for c in range(6):
        ax = fig.add_axes([COL_LEFT[c] / W, 1 - (ROW_TOP[r] + ROW_H[r]) / H,
                           AX_W / W, ROW_H[r] / H])
        lim = 2 if c >= 3 else 1
        for s, col in zip(ROWS[r][c], COLORS):
            x = np.linspace(-lim, lim, len(s))
            ax.plot(x, s, color=col, lw=0.5, alpha=0.6)
        ax.set_xlim(-lim, lim)
        ax.set_ylim(*YLIMS[r][c])
        ax.set_xticks([-2, -1, 0, 1, 2] if lim == 2 else [-1, -0.5, 0, 0.5, 1])
        ax.set_yticks(YTICKS[r][c])
        ax.set_yticklabels([f"{v:g}" for v in YTICKS[r][c]])
        if r == 4:
            ax.set_xticklabels([f"{v:g}" for v in ax.get_xticks()])
            ax.set_xlabel(XLABELS[c], fontsize=3.6, labelpad=1.5, color="0.25")
        else:
            ax.set_xticklabels([])
        if c == 0:
            ax.set_ylabel(YLABELS[r], fontsize=3.6, labelpad=2, color="0.25",
                          linespacing=1.1)
        ax.tick_params(direction="in", length=1.2, width=0.3, pad=1,
                       labelsize=TICK_FS, colors="0.3", top=True, right=True)
        for sp in ax.spines.values():
            sp.set_linewidth(0.5)
            sp.set_color("0.6")

fig.text(57 / W, 1 - 246 / H, "# of Image", fontsize=4.2, fontweight="bold",
         ha="center", va="center", color="0.15")

handles = [plt.Line2D([], [], color=col, lw=0.5, alpha=0.7) for col in COLORS]
fig.legend(handles, SERIES, loc="center", ncol=4, frameon=False,
           bbox_to_anchor=(63 / W, 1 - 253 / H), fontsize=3.0,
           handlelength=3.6, columnspacing=0.3, handletextpad=0.5,
           borderpad=0, borderaxespad=0)

fig.savefig("out.png", dpi=100)
